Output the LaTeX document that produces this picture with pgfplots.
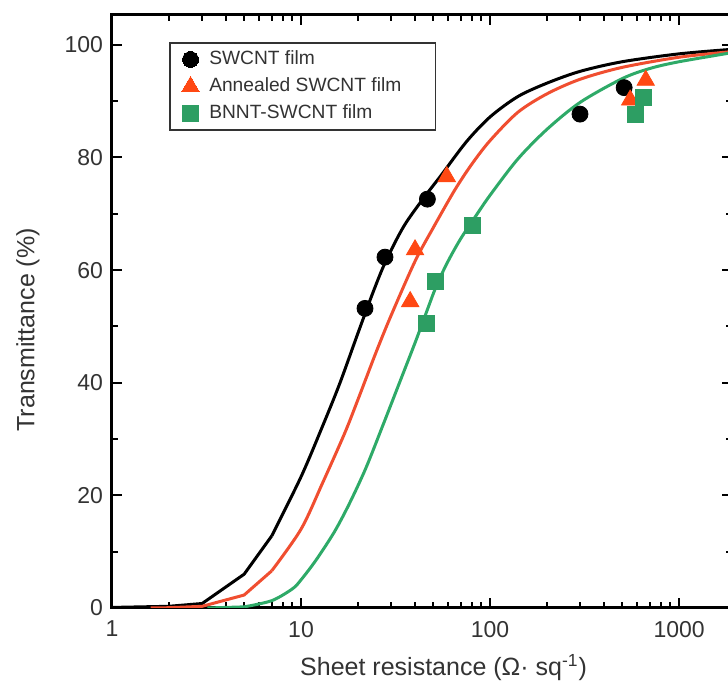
\documentclass[border=0pt]{standalone}
\usepackage{fontspec}
\setmainfont{Liberation Sans}
\usepackage{pgfplots}
\pgfplotsset{compat=1.18}
\definecolor{txtgray}{HTML}{333333}
\definecolor{redline}{HTML}{F04E30}
\definecolor{redmark}{HTML}{FF4813}
\definecolor{greenline}{HTML}{2EAA68}
\definecolor{greenmark}{HTML}{2D9E63}
\begin{document}
\begin{tikzpicture}
\useasboundingbox (-56pt,-38pt) rectangle (308pt,304pt);
\begin{axis}[
  at={(0,0)}, anchor=south west,
  scale only axis, width=309.9pt, height=296.5pt,
  xmode=log, xmin=1, xmax=1900, ymin=0, ymax=105.3,
  xtick={1,10,100,1000}, xticklabels={1,10,100,1000},
  ytick={0,20,40,60,80,100}, minor ytick={10,30,50,70,90},
  tick align=inside,
  major tick length=5pt, minor tick length=3pt,
  every tick/.style={black, line width=1pt},
  axis line style={line width=1.5pt},
  /pgf/number format/assume math mode=true,
  tick label style={font=\fontsize{11.5}{13}\selectfont, text=txtgray},
  xticklabel style={yshift=-3pt},
  yticklabel style={xshift=-1pt},
  xlabel={Sheet resistance (Ω· sq\textsuperscript{-1})},
  ylabel={Transmittance (\%)},
  label style={font=\fontsize{12.5}{14}\selectfont, text=txtgray},
  xlabel style={at={(axis description cs:0.535,-0.101)}, anchor=center},
  ylabel style={at={(axis description cs:-0.1355,0.469)}, anchor=center},
  legend style={at={(0.092,0.954)}, anchor=north west, draw=txtgray, line width=0.75pt,
    font=\fontsize{9.6}{11}\selectfont, text=txtgray, inner xsep=4pt, inner ysep=2pt, row sep=1pt},
  legend cell align=left,
  legend image code/.code={\path (0pt,0pt) (13pt,0pt); \draw[#1, line width=0pt] plot coordinates {(6pt,0pt)};},
]
% fitted curves: coarse low end
\addplot[black, line width=1.5pt, forget plot] coordinates {
(1,0.1) (2,0.3) (3,0.8) (5,6.0) (7,12.8)};
\addplot[black, line width=1.5pt, smooth, tension=0.5, forget plot] coordinates {
(7,12.8) (10,23.3) (13,32.3) (16,39.8) (20,48.8) (24,56.0)
(28,61.5) (35,67.8) (45,73.0) (55,76.8) (75,82.8) (100,87.2) (140,90.8) (200,93.2) (300,95.3)
(500,97.0) (1000,98.4) (1900,99.2)};
\addplot[redline, line width=1.5pt, forget plot] coordinates {
(1.6,0) (2,0.05) (3,0.3) (5,2.3) (7,6.6)};
\addplot[redline, line width=1.5pt, smooth, tension=0.5, forget plot] coordinates {
(7,6.6) (10,14.0) (13,22.2) (17,31.0) (20,37.0) (25,45.5)
(30,52.0) (40,61.5) (50,67.5) (65,74.2) (80,78.8) (100,83.0) (140,88.0) (200,91.3) (300,93.9)
(500,96.0) (1000,97.8) (1900,98.8)};
\addplot[greenline, line width=1.5pt, forget plot] coordinates {
(3.2,0) (5,0.2)};
\addplot[greenline, line width=1.5pt, smooth, tension=0.5, forget plot] coordinates {
(5,0.2) (7,1.3) (9,3.4) (10,5.0) (12,8.5) (15,13.5) (18,18.5) (22,24.8) (27,32.3)
(33,39.8) (40,47.0) (45,51.6) (52,57.2) (60,61.6) (70,65.6) (84,69.6) (100,73.3) (140,79.7)
(200,85.0) (300,89.8) (500,94.0) (700,95.8) (1000,97.0) (1900,98.6)};
% measured points
\addplot[only marks, mark=*, mark size=4pt, black] coordinates {
(21.8,53.2) (27.8,62.3) (46.6,72.6) (299,87.7) (512,92.4)};
\addlegendentry{SWCNT film}
\addplot[only marks, mark=triangle*, mark size=5pt, redmark, mark options={draw=redmark, fill=redmark}] coordinates {
(37.8,54.4) (40.1,63.6) (59.0,76.6) (551,90.2) (666,93.7)};
\addlegendentry{Annealed SWCNT film\hspace{11pt}\null}
\addplot[only marks, mark=square*, mark size=4pt, greenmark, mark options={draw=greenmark, fill=greenmark}] coordinates {
(45.9,50.6) (51.2,58.0) (81.0,68.0) (585,87.7) (648,90.7)};
\addlegendentry{BNNT-SWCNT film}
\end{axis}
\end{tikzpicture}
\end{document}
